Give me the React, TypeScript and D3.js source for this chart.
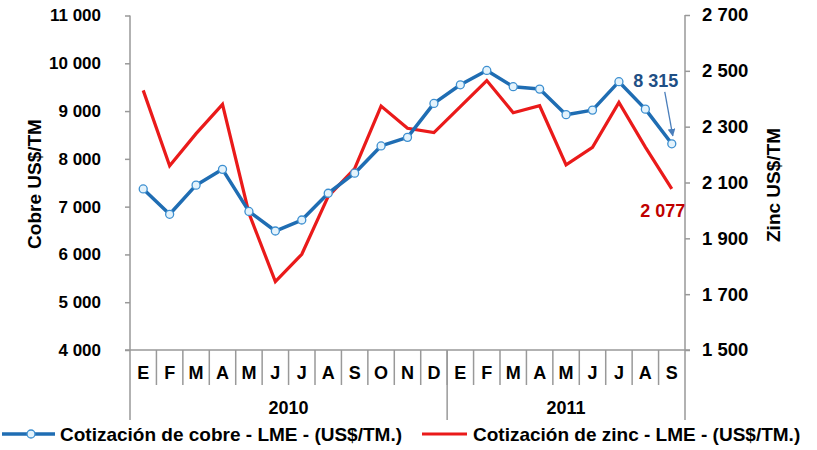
import React, { useRef, useEffect } from "react";
import * as d3 from "d3";

// monthly LME quotations, Jan 2010 - Sep 2011
const months = ["E", "F", "M", "A", "M", "J", "J", "A", "S", "O", "N", "D", "E", "F", "M", "A", "M", "J", "J", "A", "S"];
const yearLabels = ["2010", "2011"];
const yearMonths = [12, 9];

const cobre = [7370, 6840, 7450, 7780, 6900, 6490, 6720, 7280, 7700, 8270, 8450, 9160, 9550, 9850, 9510, 9460, 8925, 9020, 9615, 9040, 8315];
const zinc = [2430, 2160, 2275, 2380, 1990, 1745, 1843, 2050, 2150, 2374, 2294, 2279, 2372, 2465, 2350, 2375, 2163, 2226, 2387, 2227, 2077];

const cobreTicks = [4000, 5000, 6000, 7000, 8000, 9000, 10000, 11000];
const zincTicks = [1500, 1700, 1900, 2100, 2300, 2500, 2700];

const legendCobre = "Cotización de cobre - LME - (US$/TM.)";
const legendZinc = "Cotización de zinc - LME - (US$/TM.)";

const BLUE = "#1f6db3";
const RED = "#ea1a1a";
const FONT = "'Liberation Sans', Arial, sans-serif";

const App = () => {
  const svgRef = useRef<SVGSVGElement>(null);

  useEffect(() => {
    const width = 817;
    const height = 450;
    const margin = { top: 15.5, bottom: 100, left: 130, right: 132 };
    const bottom = height - margin.bottom;

    const svg = d3.select(svgRef.current);
    svg.selectAll("*").remove();

    const locale = d3.formatLocale({ decimal: ",", thousands: " ", grouping: [3], currency: ["", ""] });
    const fmt = locale.format(",d");

    const x = d3
      .scaleBand<number>()
      .domain(d3.range(months.length))
      .range([margin.left, width - margin.right])
      .padding(0);

    const yL = d3.scaleLinear().domain([4000, 11000]).range([bottom, margin.top]);
    const yR = d3.scaleLinear().domain([1500, 2700]).range([bottom, 15]);

    const cx = (i: number) => x(i)! + x.bandwidth() / 2;

    // left axis
    const left = svg
      .append("g")
      .attr("transform", `translate(${margin.left},0)`)
      .call(d3.axisLeft(yL).tickValues(cobreTicks).tickFormat((d) => fmt(+d)).tickSize(5).tickSizeOuter(0).tickPadding(24));
    left.select(".domain").remove();
    left.selectAll("line").attr("stroke", "#999").attr("stroke-width", 1.5);
    left.selectAll("text").attr("font-family", FONT).attr("font-weight", "bold").attr("font-size", 17).attr("fill", "#000");

    // right axis
    const right = svg
      .append("g")
      .attr("transform", `translate(${width - margin.right},0)`)
      .call(d3.axisRight(yR).tickValues(zincTicks).tickFormat((d) => fmt(+d)).tickSize(5).tickSizeOuter(0).tickPadding(12));
    right.select(".domain").remove();
    right.selectAll("line").attr("stroke", "#999").attr("stroke-width", 1.5);
    right.selectAll("text").attr("font-family", FONT).attr("font-weight", "bold").attr("font-size", 18.5).attr("fill", "#000");

    const grid = svg.append("g").attr("stroke", "#999").attr("stroke-width", 1.5);
    // vertical axis lines, extended down to the year band
    grid.append("line").attr("x1", margin.left).attr("x2", margin.left).attr("y1", margin.top).attr("y2", 420);
    grid.append("line").attr("x1", width - margin.right).attr("x2", width - margin.right).attr("y1", 15).attr("y2", 420);
    // category axis
    grid.append("line").attr("x1", margin.left - 5).attr("x2", width - margin.right + 5).attr("y1", bottom).attr("y2", bottom);

    grid
      .selectAll(".sep")
      .data(d3.range(1, months.length))
      .join("line")
      .attr("x1", (d) => x(d)!)
      .attr("x2", (d) => x(d)!)
      .attr("y1", bottom)
      .attr("y2", 385);

    let acc = 0;
    const yearStart = yearMonths.map((n) => {
      const s = acc;
      acc += n;
      return s;
    });
    grid
      .selectAll(".ysep")
      .data(yearStart.slice(1))
      .join("line")
      .attr("x1", (d) => x(d)!)
      .attr("x2", (d) => x(d)!)
      .attr("y1", bottom)
      .attr("y2", 420);

    svg
      .append("g")
      .selectAll("text")
      .data(months)
      .join("text")
      .attr("x", (d, i) => cx(i))
      .attr("y", 379)
      .attr("text-anchor", "middle")
      .attr("font-family", FONT)
      .attr("font-weight", "bold")
      .attr("font-size", 18)
      .text((d) => d);

    svg
      .append("g")
      .selectAll("text")
      .data(yearLabels)
      .join("text")
      .attr("x", (d, i) => (x(yearStart[i])! + x(yearStart[i] + yearMonths[i] - 1)! + x.bandwidth()) / 2)
      .attr("y", 414)
      .attr("text-anchor", "middle")
      .attr("font-family", FONT)
      .attr("font-weight", "bold")
      .attr("font-size", 18)
      .text((d) => d);

    // axis titles
    svg
      .append("text")
      .attr("transform", `translate(41,184) rotate(-90)`)
      .attr("text-anchor", "middle")
      .attr("font-family", FONT)
      .attr("font-weight", "bold")
      .attr("font-size", 19)
      .text("Cobre US$/TM");
    svg
      .append("text")
      .attr("transform", `translate(780,185) rotate(-90)`)
      .attr("text-anchor", "middle")
      .attr("font-family", FONT)
      .attr("font-weight", "bold")
      .attr("font-size", 19)
      .text("Zinc US$/TM");

    // zinc line
    const lineZ = d3.line<number>().x((d, i) => cx(i)).y((d) => yR(d));
    svg.append("path").datum(zinc).attr("d", lineZ).attr("fill", "none").attr("stroke", RED).attr("stroke-width", 3.2).attr("stroke-linejoin", "miter");

    // copper line + markers
    const lineC = d3.line<number>().x((d, i) => cx(i)).y((d) => yL(d));
    svg.append("path").datum(cobre).attr("d", lineC).attr("fill", "none").attr("stroke", BLUE).attr("stroke-width", 3.5).attr("stroke-linejoin", "round");
    svg
      .append("g")
      .selectAll("circle")
      .data(cobre)
      .join("circle")
      .attr("cx", (d, i) => cx(i))
      .attr("cy", (d) => yL(d))
      .attr("r", 4)
      .attr("fill", "#e4f3fc")
      .attr("stroke", "#3d8fd0")
      .attr("stroke-width", 1.3);

    // annotations
    const last = cobre.length - 1;
    svg
      .append("defs")
      .append("marker")
      .attr("id", "arr")
      .attr("viewBox", "0 0 10 10")
      .attr("refX", 9)
      .attr("refY", 5)
      .attr("markerWidth", 6)
      .attr("markerHeight", 6)
      .attr("orient", "auto")
      .append("path")
      .attr("d", "M0,0L10,5L0,10z")
      .attr("fill", "#4a7ebb");
    svg
      .append("line")
      .attr("x1", cx(last) - 7)
      .attr("y1", yL(cobre[last]) - 52)
      .attr("x2", cx(last) + 1)
      .attr("y2", yL(cobre[last]) - 8)
      .attr("stroke", "#4a7ebb")
      .attr("stroke-width", 1.3)
      .attr("marker-end", "url(#arr)");
    svg
      .append("text")
      .attr("x", cx(last) - 16)
      .attr("y", yL(cobre[last]) - 57)
      .attr("text-anchor", "middle")
      .attr("font-family", FONT)
      .attr("font-weight", "bold")
      .attr("font-size", 18)
      .attr("fill", "#1f4f85")
      .text(fmt(cobre[last]));
    svg
      .append("text")
      .attr("x", cx(last) - 9)
      .attr("y", yR(zinc[last]) + 28)
      .attr("text-anchor", "middle")
      .attr("font-family", FONT)
      .attr("font-weight", "bold")
      .attr("font-size", 18)
      .attr("fill", "#c00000")
      .text(fmt(zinc[last]));

    // legend
    const lg = svg.append("g");
    const ly = 434;
    lg.append("line").attr("x1", 2).attr("x2", 55).attr("y1", ly).attr("y2", ly).attr("stroke", BLUE).attr("stroke-width", 3.5);
    lg.append("circle").attr("cx", 31).attr("cy", ly).attr("r", 4).attr("fill", "#e4f3fc").attr("stroke", "#3d8fd0").attr("stroke-width", 1.3);
    lg.append("text").attr("x", 60).attr("y", ly + 7).attr("font-family", FONT).attr("font-weight", "bold").attr("font-size", 19).text(legendCobre);
    lg.append("line").attr("x1", 422).attr("x2", 467).attr("y1", ly).attr("y2", ly).attr("stroke", RED).attr("stroke-width", 3.2);
    lg.append("text").attr("x", 473).attr("y", ly + 7).attr("font-family", FONT).attr("font-weight", "bold").attr("font-size", 19).text(legendZinc);
  }, []);

  return (
    <div style={{ position: "absolute", left: 0, top: 0 }}>
      <svg ref={svgRef} width={817} height={450} style={{ display: "block", background: "#fff" }} />
    </div>
  );
};

export default App;
